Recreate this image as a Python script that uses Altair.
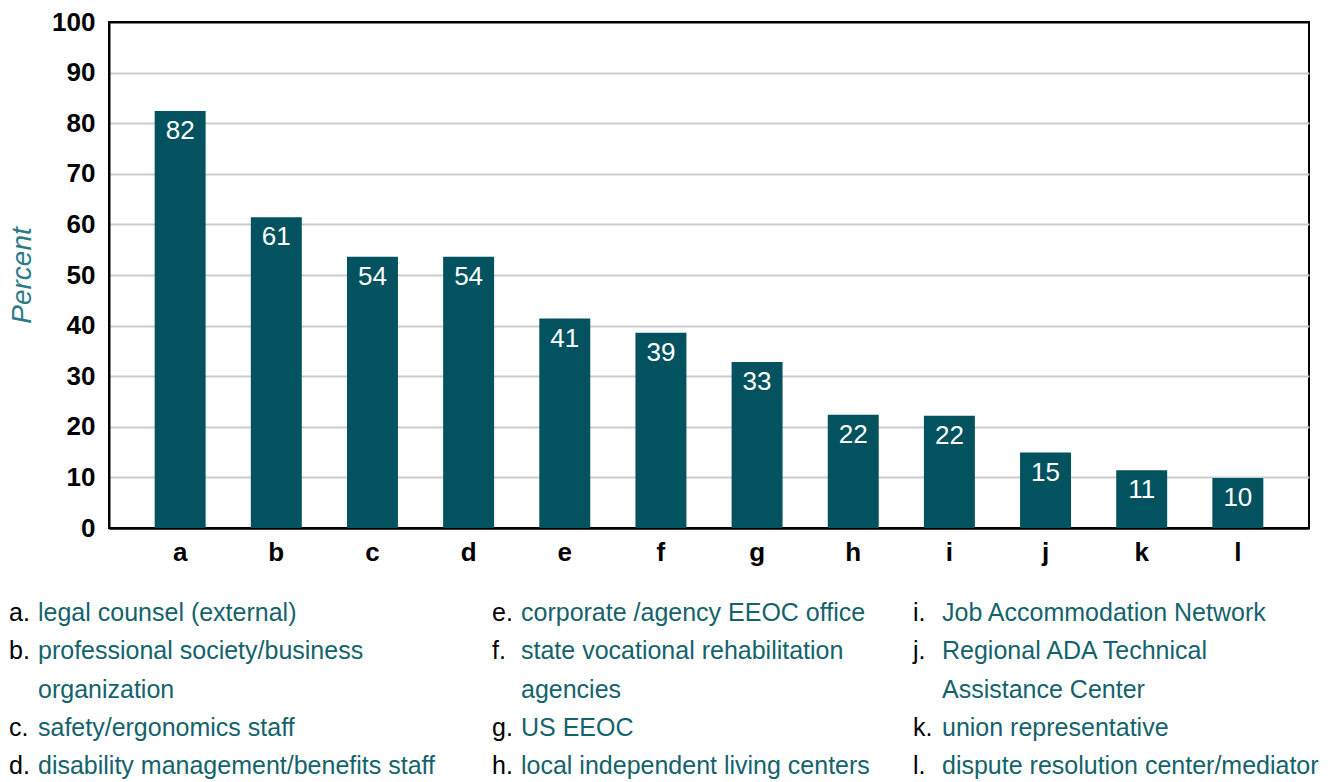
import altair as alt
import pandas as pd

letters = ["a", "b", "c", "d", "e", "f", "g", "h", "i", "j", "k", "l"]
values = [82.4, 61.4, 53.6, 53.6, 41.4, 38.6, 32.8, 22.4, 22.2, 14.9, 11.4, 9.9]
descriptions = [
    "legal counsel (external)",
    "professional society/business\norganization",
    "safety/ergonomics staff",
    "disability management/benefits staff",
    "corporate /agency EEOC office",
    "state vocational rehabilitation\nagencies",
    "US EEOC",
    "local independent living centers",
    "Job Accommodation Network",
    "Regional ADA Technical\nAssistance Center",
    "union representative",
    "dispute resolution center/mediator",
]
legend_col = [0, 0, 0, 0, 1, 1, 1, 1, 2, 2, 2, 2]
legend_row = [0, 1, 3, 4, 0, 1, 3, 4, 0, 1, 3, 4]
y_ticks = list(range(0, 101, 10))

BAR = "#02535f"
TEAL_TXT = "#14636c"
TEAL_TITLE = "#2b7a86"
FONT = "Liberation Sans"

df = pd.DataFrame({"letter": letters, "value": values})
leg = pd.DataFrame({
    "key": [l + "." for l in letters],
    "desc": descriptions,
    "col": legend_col,
    "row": legend_row,
})

x_enc = alt.X(
    "letter:N", sort=None,
    scale=alt.Scale(paddingInner=0.47, paddingOuter=0.475),
    axis=alt.Axis(labelAngle=0, title=None, ticks=False, labelFontSize=26,
                  labelFontWeight="bold", labelColor="black", labelPadding=11,
                  domainColor="black", domainWidth=2, grid=False),
)
y_enc = alt.Y(
    "value:Q",
    scale=alt.Scale(domain=[0, 100], nice=False),
    axis=alt.Axis(values=y_ticks, title="Percent", titleFontStyle="italic",
                  titleFontWeight="normal", titleColor=TEAL_TITLE, titleFontSize=28,
                  titlePadding=15, ticks=False, labelFontSize=26, labelFontWeight="bold",
                  labelColor="black", labelPadding=14, domainColor="black", domainWidth=2,
                  grid=True, gridWidth=2,
                  gridColor={"condition": {"test": "datum.value >= 100 || datum.value <= 0",
                                           "value": "black"},
                             "value": "#cccccc"}),
)

bars = alt.Chart(df).mark_bar(color=BAR).encode(x=x_enc, y=y_enc)
labels = alt.Chart(df).mark_text(
    color="white", fontSize=26, baseline="alphabetic", dy=28, font=FONT
).encode(x=alt.X("letter:N", sort=None), y="value:Q", text=alt.Text("value:Q", format=".0f"))

main = alt.layer(bars, labels)

lx = alt.X("col:Q", scale=alt.Scale(domain=[0, 1, 2], range=[-100, 383, 804], nice=False, zero=False), axis=None)
ly = alt.Y("row:Q", scale=alt.Scale(domain=[0, 4], range=[599, 752], nice=False, zero=False), axis=None)

leg_keys = alt.Chart(leg).mark_text(
    align="left", baseline="alphabetic", fontSize=25, color="black", font=FONT
).encode(x=lx, y=ly, text="key:N")
leg_desc = alt.Chart(leg).mark_text(
    align="left", baseline="alphabetic", fontSize=25, color=TEAL_TXT, font=FONT,
    dx=29, lineBreak="\n", lineHeight=38.3
).encode(x=lx, y=ly, text="desc:N")
legend = alt.layer(leg_keys, leg_desc)

chart = alt.layer(main, legend).resolve_scale(x="independent", y="independent").properties(
    width=1200, height=506, padding={"left": 0, "top": 1, "right": 5, "bottom": 0}
).configure(font=FONT).configure_view(stroke="black", strokeWidth=2)

chart.save("out.html", embed_options={"renderer": "svg", "actions": False})
